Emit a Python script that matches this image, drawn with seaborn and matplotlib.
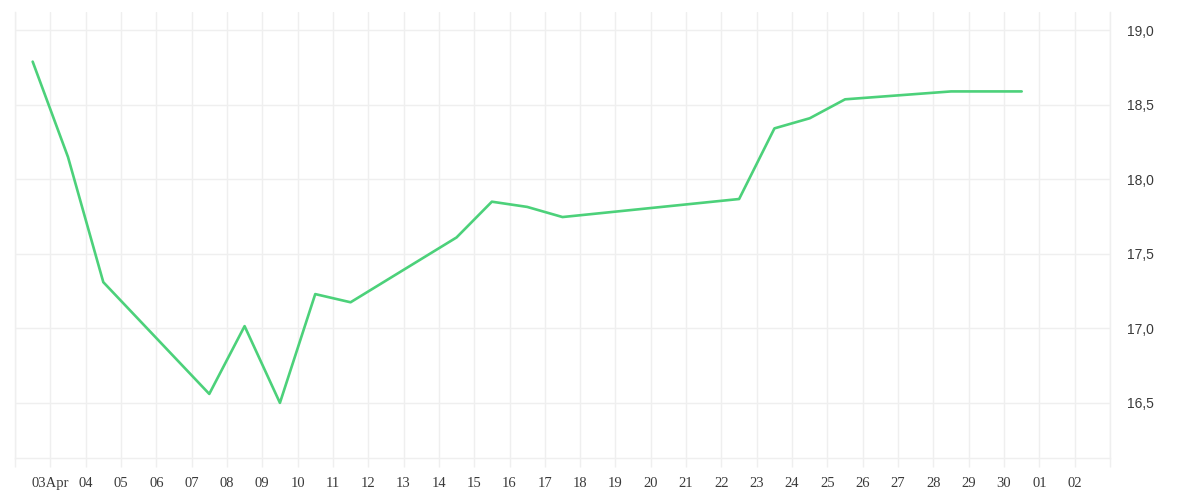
import matplotlib
matplotlib.use("Agg")
import matplotlib.pyplot as plt
import matplotlib.dates as mdates
from matplotlib.ticker import FuncFormatter
import seaborn as sns
import pandas as pd

# ---- data ----
dates = ["2024-04-02 12:00", "2024-04-03 12:00", "2024-04-04 12:00", "2024-04-07 12:00",
         "2024-04-08 12:00", "2024-04-09 12:00", "2024-04-10 12:00", "2024-04-11 12:00",
         "2024-04-14 12:00", "2024-04-15 12:00", "2024-04-16 12:00", "2024-04-17 12:00",
         "2024-04-22 12:00", "2024-04-23 12:00", "2024-04-24 12:00", "2024-04-25 12:00",
         "2024-04-28 12:00", "2024-04-30 12:00"]
values = [18.79, 18.15, 17.31, 16.56, 17.015, 16.50, 17.23, 17.175,
          17.61, 17.85, 17.815, 17.747, 17.868, 18.342, 18.41, 18.537,
          18.59, 18.59]
y_ticks = [16.5, 17.0, 17.5, 18.0, 18.5, 19.0]

df = pd.DataFrame({"date": pd.to_datetime(dates), "value": values})

sns.set_theme(style="white")
grid_c = "#efefef"
text_c = "#3a3a3a"

fig = plt.figure(figsize=(12, 5), dpi=100)
ax = fig.add_axes([15/1200, 42/500, (1110-15)/1200, (458-12)/500])

sns.lineplot(data=df, x="date", y="value", ax=ax, color="#4cd17a", linewidth=1.9)

ax.set_xlim(pd.Timestamp("2024-04-02"), pd.Timestamp("2024-05-03"))
ax.set_ylim(16.13, 19.123)

ax.xaxis.set_major_locator(mdates.DayLocator())
def xfmt(x, pos):
    d = mdates.num2date(x)
    if d.month == 4 and d.day == 2:
        return ""
    if d.month == 5 and d.day == 3:
        return ""
    if d.month == 4 and d.day == 3:
        return "03Apr"
    return d.strftime("%d")
ax.xaxis.set_major_formatter(FuncFormatter(xfmt))

ax.set_yticks(y_ticks)
ax.yaxis.set_major_formatter(FuncFormatter(lambda v, p: f"{v:.1f}".replace(".", ",")))
ax.yaxis.tick_right()

ax.grid(True, color=grid_c, linewidth=1)
ax.set_axisbelow(True)

ax.tick_params(axis="x", length=6.5, width=1, color=grid_c, pad=7, labelsize=10.5,
               labelcolor=text_c, bottom=True)
ax.tick_params(axis="y", length=0, pad=12, labelsize=10, labelcolor=text_c, right=True, left=False)
for lab in ax.get_xticklabels():
    lab.set_family(["Liberation Serif", "DejaVu Serif"])
for lab in ax.get_yticklabels():
    lab.set_family(["Liberation Sans", "DejaVu Sans"])
    lab.set_horizontalalignment("left")

ax.set_xlabel("")
ax.set_ylabel("")
ax.spines["top"].set_visible(False)
for s in ["left", "right", "bottom"]:
    ax.spines[s].set_color(grid_c)
    ax.spines[s].set_linewidth(1)

fig.savefig("out.png", dpi=100, facecolor="white")
